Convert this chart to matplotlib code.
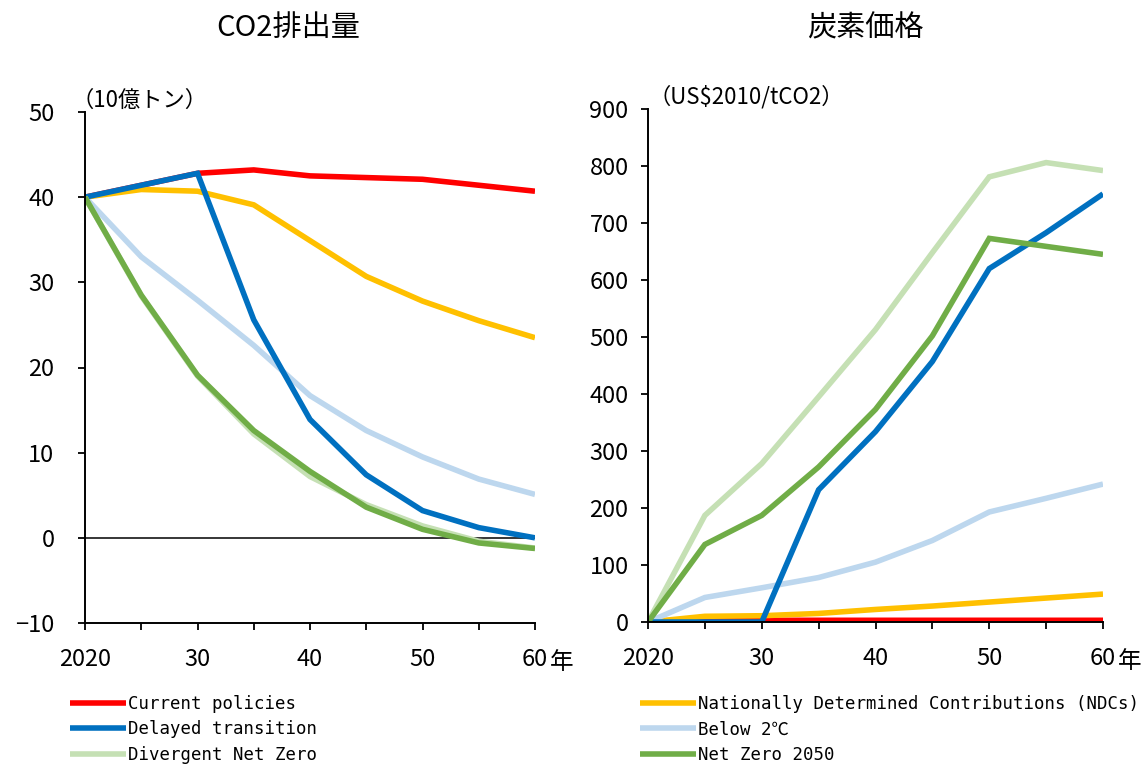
import matplotlib
matplotlib.use("Agg")
import matplotlib.pyplot as plt

plt.rcParams['font.family'] = ['Noto Sans CJK JP', 'DejaVu Sans']

years = [2020, 2025, 2030, 2035, 2040, 2045, 2050, 2055, 2060]
year_labels = ['2020', '', '30', '', '40', '', '50', '', '60']

colors = {
    'Current policies': '#FF0000',
    'Nationally Determined Contributions (NDCs)': '#FFC000',
    'Delayed transition': '#0070C0',
    'Below 2℃': '#BDD7EE',
    'Divergent Net Zero': '#C5E0B4',
    'Net Zero 2050': '#70AD47',
}

# CO2排出量（10億トン）
co2_current = [40.0, 41.4, 42.8, 43.2, 42.5, 42.3, 42.1, 41.4, 40.7]
co2_ndc = [40.0, 40.9, 40.7, 39.1, 34.9, 30.7, 27.8, 25.5, 23.5]
co2_delayed = [40.0, 41.4, 42.8, 25.6, 13.9, 7.4, 3.2, 1.2, 0.0]
co2_below2 = [40.0, 33.0, 27.9, 22.6, 16.7, 12.6, 9.5, 6.9, 5.1]
co2_divergent = [40.0, 28.4, 19.0, 12.2, 7.2, 3.9, 1.4, -0.4, -1.2]
co2_nz2050 = [40.0, 28.5, 19.1, 12.6, 7.8, 3.6, 1.0, -0.6, -1.25]

# 炭素価格（US$2010/tCO2）
price_current = [0, 2, 3, 3, 3, 3, 3, 3, 3]
price_ndc = [0, 10, 11, 15, 22, 28, 35, 42, 49]
price_delayed = [0, 0, 0, 232, 334, 457, 620, 683, 751]
price_below2 = [0, 43, 60, 78, 105, 143, 193, 217, 242]
price_divergent = [0, 187, 278, 395, 513, 648, 781, 806, 792]
price_nz2050 = [0, 136, 187, 272, 373, 502, 673, 659, 645]

co2 = {
    'Current policies': co2_current,
    'Nationally Determined Contributions (NDCs)': co2_ndc,
    'Below 2℃': co2_below2,
    'Delayed transition': co2_delayed,
    'Divergent Net Zero': co2_divergent,
    'Net Zero 2050': co2_nz2050,
}
price = {
    'Current policies': price_current,
    'Nationally Determined Contributions (NDCs)': price_ndc,
    'Below 2℃': price_below2,
    'Delayed transition': price_delayed,
    'Divergent Net Zero': price_divergent,
    'Net Zero 2050': price_nz2050,
}

W, H = 1146, 765
fig = plt.figure(figsize=(W / 100, H / 100), dpi=100)


def px_axes(x0, x1, ytop, ybot):
    return fig.add_axes([x0 / W, 1 - ybot / H, (x1 - x0) / W, (ybot - ytop) / H])


ax1 = px_axes(85, 535, 112, 623)
ax2 = px_axes(648, 1103, 109, 622)

lines = {}
for ax, data in ((ax1, co2), (ax2, price)):
    for name, vals in data.items():
        ln, = ax.plot(years, vals, color=colors[name], lw=4.0,
                      solid_joinstyle='miter', solid_capstyle='butt', label=name)
        lines[name] = ln

ax1.set_ylim(-10, 50)
ax1.set_yticks([-10, 0, 10, 20, 30, 40, 50])
ax1.set_yticklabels(['−10', '0', '10', '20', '30', '40', '50'])
ax1.axhline(0, color='black', lw=1.1, zorder=1)
ax2.set_ylim(0, 900)
ax2.set_yticks(range(0, 901, 100))

for ax, ypad in ((ax1, 17), (ax2, 9)):
    ax.set_xlim(2020, 2060)
    ax.set_xticks(years)
    ax.set_xticklabels(year_labels)
    for s in ('top', 'right'):
        ax.spines[s].set_visible(False)
    for s in ('left', 'bottom'):
        ax.spines[s].set_linewidth(1.4)
    ax.tick_params(axis='both', direction='out', length=5, width=1.3, labelsize=17)
    ax.tick_params(axis='x', pad=13)
    ax.tick_params(axis='y', pad=ypad)
    # 末尾の目盛りに「年」を付ける
    ax.annotate('年', xy=(2060, 0), xycoords=('data', 'axes fraction'),
                xytext=(11, -20), textcoords='offset points',
                ha='left', va='top', fontsize=17)

ax1.text(-0.03, 1.0, '（10億トン）', transform=ax1.transAxes, ha='left', va='bottom',
         fontsize=16)
ax2.text(0.0, 1.0, '（US$2010/tCO2）', transform=ax2.transAxes, ha='left', va='bottom',
         fontsize=16)

fig.text(288 / W, 1 - 28 / H, 'CO2排出量', ha='center', va='center', fontsize=21)
fig.text(865 / W, 1 - 28 / H, '炭素価格', ha='center', va='center', fontsize=21)

legend_font = {'family': ['DejaVu Sans Mono', 'Noto Sans CJK JP'], 'size': 12.5}
left_names = ['Current policies', 'Delayed transition', 'Divergent Net Zero']
right_names = ['Nationally Determined Contributions (NDCs)', 'Below 2℃', 'Net Zero 2050']
for names, x in ((left_names, 70), (right_names, 640)):
    fig.legend([lines[n] for n in names], names, loc='upper left',
               bbox_to_anchor=(x / W, 1 - 695 / H), frameon=False, prop=legend_font,
               handlelength=3.2, handletextpad=0.15, labelspacing=0.43,
               borderpad=0, borderaxespad=0)

fig.savefig('out.png', dpi=100)
